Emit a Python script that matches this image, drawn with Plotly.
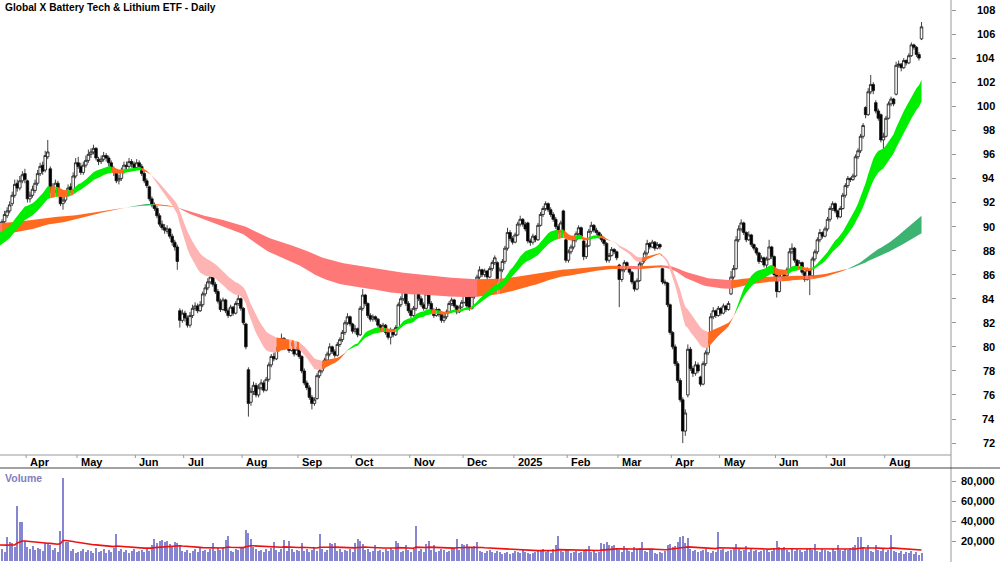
import pandas as pd
import plotly.graph_objects as go

# ---------------- data ----------------
title_text = "Global X Battery Tech & Lithium ETF - Daily"
asx_holidays = ["2024-03-29", "2024-04-01", "2024-04-25", "2024-06-10", "2024-12-25",
                "2024-12-26", "2025-01-01", "2025-01-27", "2025-04-18", "2025-04-21",
                "2025-04-25", "2025-06-09"]
dates = [d for d in pd.bdate_range("2024-03-14", "2025-08-21")
         if d.strftime("%Y-%m-%d") not in asx_holidays]

opens = [
 90.3, 89.7, 90.4, 90.9, 91.3, 91.9, 92.6, 93.6, 93.2, 93.8,
 94.4, 93.8, 92.3, 92.6, 93.0, 93.6, 94.4, 95.1, 94.7, 95.8,
 94.8, 93.1, 93.0, 93.6, 92.9, 91.9, 92.2, 92.7, 93.3, 93.0,
 94.2, 95.3, 95.0, 94.5, 95.1, 95.5, 96.0, 96.2, 96.5, 95.6,
 95.4, 95.6, 95.9, 95.7, 95.3, 94.8, 94.5, 93.8, 94.0, 94.6,
 95.1, 95.0, 95.4, 95.2, 94.9, 95.3, 95.0, 94.4, 93.8, 93.3,
 92.3, 91.8, 91.5, 90.9, 90.2, 89.9, 89.6, 89.8, 89.2, 88.7,
 88.3, 83.0, 82.2, 82.8, 82.4, 81.8, 82.6, 83.2, 83.4, 83.0,
 83.5, 84.4, 84.9, 85.4, 85.8, 85.2, 84.6, 83.8, 83.1, 83.9,
 83.0, 82.6, 83.3, 82.8, 83.6, 84.0, 83.2, 81.9, 78.1, 75.4,
 76.3, 76.8, 76.0, 76.6, 77.0, 76.4, 77.3, 78.5, 79.2, 79.0,
 79.8, 80.3, 80.7, 80.0, 80.4, 79.7, 80.2, 79.4, 79.8, 79.2,
 78.0, 77.0, 76.6, 75.8, 75.3, 75.7, 77.6, 78.0, 78.4, 78.9,
 79.4, 80.0, 79.6, 79.3, 80.2, 80.6, 81.2, 82.0, 82.5, 81.9,
 81.3, 81.5, 81.0, 83.2, 84.3, 83.6, 82.6, 82.3, 82.5, 82.3,
 81.8, 81.5, 81.8, 81.2, 80.8, 81.4, 81.0, 81.6, 83.5, 84.0,
 84.8, 83.6, 83.0, 82.6, 83.2, 85.3, 84.0, 83.5, 83.2, 84.4,
 83.6, 83.0, 82.6, 83.1, 82.7, 82.2, 82.5, 82.9, 83.6, 83.9,
 83.4, 82.9, 83.3, 83.7, 84.4, 84.6, 83.2, 84.2, 85.2, 85.8,
 86.4, 86.0, 86.3, 85.8, 86.5, 87.0, 87.0, 85.5, 86.4, 87.1,
 88.2, 89.5, 89.0, 88.7, 89.3, 90.2, 90.6, 90.2, 90.3, 88.8,
 88.7, 89.2, 88.9, 90.1, 91.0, 91.5, 91.9, 91.4, 91.0, 90.6,
 90.0, 89.6, 91.3, 88.9, 87.2, 87.9, 88.3, 88.9, 89.4, 89.9,
 88.8, 87.5, 88.4, 89.6, 90.1, 89.7, 89.5, 89.2, 88.9, 88.6,
 87.2, 87.6, 88.1, 87.9, 86.8, 85.6, 86.4, 87.0, 86.6, 86.2,
 85.4, 84.8, 85.5, 86.9, 87.2, 87.8, 88.6, 88.3, 88.7, 88.2,
 88.5, 86.5, 85.4, 85.3, 83.5, 81.2, 80.0, 78.6, 77.2, 75.6,
 73.0, 76.0, 79.8, 78.2, 77.8, 78.5, 77.5, 76.9, 78.6, 79.5,
 80.4, 82.5, 83.0, 82.6, 83.2, 82.8, 83.4, 83.1, 84.4, 85.8,
 86.5, 88.9, 89.8, 90.3, 89.5, 88.9, 89.3, 88.5, 88.2, 87.8,
 87.1, 87.4, 86.8, 87.3, 88.3, 87.5, 86.0, 84.6, 85.8, 86.2,
 85.9, 86.4, 87.9, 88.2, 87.2, 86.6, 87.0, 86.2, 85.6, 86.4,
 85.9, 87.3, 87.9, 88.9, 89.5, 89.2, 89.8, 90.6, 91.5, 91.9,
 91.3, 90.8, 91.5, 92.6, 93.4, 94.0, 93.9, 94.2, 95.8, 96.3,
 97.5, 99.9, 99.3, 101.2, 101.8, 100.3, 99.6, 99.3, 97.2, 97.5,
 99.0, 100.2, 100.6, 101.0, 103.4, 103.5, 103.2, 103.8, 103.6, 104.2,
 105.1, 104.9, 104.3, 105.6]

highs = [
 90.6, 90.6, 91.3, 91.6, 92.1, 92.9, 93.9, 93.9, 94.2, 94.6,
 94.8, 93.9, 92.9, 93.4, 93.9, 94.7, 95.3, 95.4, 96.3, 97.2,
 95.0, 93.6, 93.9, 93.8, 93.0, 92.5, 93.0, 93.5, 93.6, 94.5,
 95.7, 95.8, 95.3, 95.4, 95.9, 96.4, 96.5, 96.8, 96.6, 95.8,
 95.9, 96.2, 96.1, 95.9, 95.5, 95.0, 94.7, 94.3, 94.9, 95.4,
 95.4, 95.7, 95.6, 95.4, 95.6, 95.5, 95.2, 94.6, 94.0, 93.4,
 92.5, 92.0, 91.7, 91.1, 90.5, 90.2, 90.1, 89.9, 89.4, 88.9,
 88.5, 83.2, 83.1, 83.0, 82.6, 82.9, 83.5, 83.7, 83.6, 83.8,
 84.6, 85.2, 85.7, 86.1, 85.9, 85.4, 84.8, 84.0, 84.1, 84.0,
 83.2, 83.5, 83.4, 83.8, 84.3, 84.1, 83.3, 82.0, 78.3, 76.6,
 77.1, 77.0, 76.9, 77.3, 77.2, 77.5, 78.7, 79.4, 79.5, 80.0,
 80.5, 81.1, 80.8, 80.6, 80.5, 80.4, 80.3, 80.0, 79.9, 79.3,
 78.2, 77.2, 76.8, 76.0, 75.8, 77.8, 78.2, 78.6, 79.1, 79.6,
 80.3, 80.1, 79.8, 80.4, 80.8, 81.4, 82.2, 82.8, 82.6, 82.0,
 81.8, 81.6, 83.4, 84.8, 84.4, 83.7, 82.8, 82.7, 82.6, 82.4,
 81.9, 82.0, 81.9, 81.3, 81.6, 81.5, 81.8, 83.7, 84.2, 85.0,
 84.9, 83.8, 83.2, 83.4, 85.8, 85.4, 84.2, 83.7, 84.8, 84.5,
 83.8, 83.2, 83.3, 83.2, 82.8, 82.7, 83.1, 83.8, 84.1, 84.0,
 83.5, 83.5, 83.9, 84.6, 84.5, 84.7, 84.4, 85.4, 86.0, 86.7,
 86.5, 86.5, 86.4, 86.7, 87.2, 87.6, 87.1, 86.6, 87.3, 88.4,
 89.9, 89.7, 89.2, 89.5, 90.4, 90.9, 90.7, 90.4, 90.4, 89.0,
 89.4, 89.3, 90.3, 91.2, 91.7, 92.1, 92.0, 91.6, 91.2, 90.8,
 90.2, 90.5, 91.4, 89.0, 88.1, 88.5, 89.1, 89.6, 90.1, 90.0,
 88.9, 88.6, 89.8, 90.4, 90.2, 89.9, 89.6, 89.4, 89.0, 88.7,
 87.8, 88.3, 88.2, 88.0, 86.9, 86.6, 87.2, 87.1, 86.7, 86.3,
 85.5, 85.7, 87.1, 87.4, 88.0, 88.9, 88.7, 88.9, 88.8, 88.7,
 88.6, 86.6, 85.6, 85.4, 83.6, 81.3, 80.2, 78.8, 77.4, 75.8,
 74.8, 80.2, 80.0, 78.4, 78.8, 78.7, 77.6, 78.8, 79.7, 80.6,
 82.8, 83.3, 83.1, 83.4, 83.3, 83.6, 83.5, 83.8, 86.3, 86.8,
 89.2, 90.1, 90.6, 90.4, 89.6, 89.6, 89.4, 88.6, 88.3, 87.9,
 87.6, 87.5, 87.5, 88.9, 88.4, 87.6, 86.1, 86.0, 86.4, 86.3,
 86.6, 88.2, 88.6, 88.3, 87.3, 87.2, 87.1, 86.3, 86.6, 86.5,
 87.5, 88.1, 89.1, 89.8, 89.6, 90.0, 90.8, 91.7, 92.1, 92.0,
 91.4, 91.7, 92.8, 93.6, 94.2, 94.1, 94.4, 96.0, 96.5, 97.7,
 98.6, 100.0, 101.5, 102.6, 102.0, 100.5, 99.8, 99.4, 97.8, 99.2,
 100.4, 100.8, 100.7, 103.7, 103.8, 103.6, 104.0, 103.9, 104.4, 105.3,
 105.2, 105.0, 104.5, 107.0]

lows = [
 89.3, 89.5, 90.2, 90.7, 91.1, 91.7, 92.4, 92.9, 93.0, 93.6,
 93.6, 92.0, 92.0, 92.4, 92.8, 93.4, 94.2, 94.3, 94.5, 95.6,
 92.8, 92.6, 92.8, 92.6, 91.7, 91.4, 92.0, 92.5, 92.8, 92.9,
 94.0, 94.8, 94.3, 94.3, 94.9, 95.3, 95.7, 96.0, 95.5, 95.1,
 95.2, 95.4, 95.4, 95.0, 94.6, 94.2, 93.6, 93.5, 93.8, 94.4,
 94.7, 94.8, 94.9, 94.7, 94.7, 94.8, 94.2, 93.6, 93.2, 92.1,
 91.6, 91.3, 90.7, 90.0, 89.7, 89.4, 89.4, 89.0, 88.4, 88.0,
 86.4, 81.6, 82.0, 82.1, 81.6, 81.6, 82.4, 83.0, 82.8, 82.9,
 83.3, 84.2, 84.7, 85.2, 85.0, 84.4, 83.6, 82.9, 83.0, 82.8,
 82.4, 82.5, 82.6, 82.7, 83.4, 83.0, 81.8, 79.8, 74.2, 75.1,
 76.0, 75.8, 75.8, 76.4, 76.2, 76.3, 77.1, 78.3, 78.8, 78.9,
 79.6, 80.1, 79.8, 79.9, 79.5, 79.6, 79.2, 79.3, 79.0, 77.8,
 76.8, 76.4, 75.6, 74.8, 75.1, 75.6, 77.4, 77.8, 78.2, 78.7,
 79.2, 79.4, 79.1, 79.2, 80.0, 80.4, 81.0, 81.8, 81.7, 81.1,
 81.1, 80.8, 80.9, 83.0, 83.4, 82.4, 82.1, 82.1, 82.1, 81.6,
 81.3, 81.3, 81.0, 80.6, 80.2, 80.8, 80.9, 81.5, 83.3, 83.8,
 83.4, 82.8, 82.4, 82.5, 83.0, 83.8, 83.3, 83.0, 83.1, 83.4,
 82.8, 82.4, 82.5, 82.5, 82.0, 82.0, 82.3, 82.8, 83.4, 83.2,
 82.7, 82.8, 83.2, 83.6, 83.2, 83.0, 83.1, 84.0, 85.0, 85.6,
 85.8, 85.8, 85.6, 85.7, 86.3, 86.8, 85.3, 85.4, 86.2, 86.9,
 88.0, 88.8, 88.5, 88.6, 89.2, 90.0, 90.0, 89.6, 88.6, 88.4,
 88.5, 88.7, 88.8, 90.0, 90.8, 91.3, 91.2, 90.8, 90.4, 89.8,
 89.4, 89.5, 89.4, 87.0, 87.0, 87.7, 88.1, 88.7, 89.2, 89.0,
 87.2, 87.3, 88.3, 89.4, 89.5, 89.3, 89.0, 88.7, 88.4, 87.0,
 87.0, 87.5, 87.7, 87.2, 83.3, 85.4, 86.2, 86.4, 86.0, 85.2,
 84.6, 84.7, 85.4, 86.7, 87.0, 87.6, 88.1, 88.2, 88.0, 88.1,
 88.1, 85.2, 85.1, 83.3, 81.0, 79.8, 78.4, 77.0, 75.4, 72.0,
 72.6, 75.8, 78.0, 77.5, 77.6, 77.8, 76.7, 76.8, 78.4, 79.3,
 80.3, 82.3, 82.4, 82.5, 82.6, 82.7, 82.9, 83.0, 84.3, 85.6,
 86.4, 88.7, 89.6, 89.3, 88.7, 88.8, 88.3, 88.0, 87.6, 86.9,
 87.0, 86.6, 86.4, 87.2, 87.3, 85.8, 84.1, 84.5, 85.6, 85.7,
 85.8, 86.3, 87.7, 87.0, 86.4, 86.5, 86.0, 85.4, 85.5, 84.3,
 85.8, 87.1, 87.7, 88.7, 89.0, 89.1, 89.6, 90.4, 91.3, 91.1,
 90.6, 90.7, 91.4, 92.4, 93.2, 93.7, 93.8, 94.1, 95.6, 96.1,
 97.3, 99.0, 99.2, 101.0, 101.0, 99.4, 98.8, 97.0, 95.4, 97.4,
 98.9, 100.0, 100.0, 100.9, 103.2, 102.9, 103.1, 103.4, 103.5, 104.1,
 104.7, 104.1, 103.8, 105.5]

closes = [
 89.6, 90.4, 91.0, 91.3, 91.8, 92.6, 93.5, 93.2, 93.8, 94.3,
 93.9, 92.3, 92.6, 93.1, 93.6, 94.4, 95.0, 94.6, 95.9, 96.2,
 93.1, 93.0, 93.6, 92.8, 91.9, 92.2, 92.7, 93.2, 93.0, 94.2,
 95.3, 95.0, 94.5, 95.1, 95.5, 96.0, 96.2, 96.5, 95.7, 95.4,
 95.6, 95.9, 95.7, 95.3, 94.8, 94.5, 93.8, 94.0, 94.6, 95.1,
 95.0, 95.4, 95.2, 94.9, 95.3, 95.0, 94.4, 93.8, 93.4, 92.3,
 91.8, 91.5, 90.9, 90.2, 89.9, 89.7, 89.8, 89.2, 88.7, 88.3,
 87.1, 82.2, 82.8, 82.4, 81.8, 82.6, 83.2, 83.4, 83.0, 83.5,
 84.4, 84.9, 85.4, 85.8, 85.2, 84.6, 83.8, 83.1, 83.9, 83.0,
 82.6, 83.3, 82.8, 83.6, 84.0, 83.2, 82.0, 80.0, 75.3, 76.3,
 76.8, 76.0, 76.6, 77.0, 76.4, 77.3, 78.5, 79.2, 79.0, 79.8,
 80.3, 80.7, 80.0, 80.4, 79.7, 80.2, 79.4, 79.8, 79.2, 78.0,
 77.0, 76.6, 75.8, 75.3, 75.6, 77.6, 78.0, 78.4, 78.9, 79.4,
 80.0, 79.6, 79.3, 80.2, 80.6, 81.2, 82.0, 82.5, 81.9, 81.3,
 81.5, 81.0, 83.2, 84.3, 83.6, 82.6, 82.3, 82.5, 82.3, 81.8,
 81.5, 81.8, 81.2, 80.8, 81.4, 81.0, 81.6, 83.5, 84.0, 84.8,
 83.6, 83.0, 82.6, 83.2, 85.3, 84.0, 83.5, 83.2, 84.4, 83.6,
 83.0, 82.6, 83.1, 82.7, 82.2, 82.5, 82.9, 83.6, 83.9, 83.4,
 82.9, 83.3, 83.7, 84.4, 83.4, 83.2, 84.2, 85.2, 85.8, 86.4,
 86.0, 86.3, 85.8, 86.5, 87.0, 87.4, 85.5, 86.4, 87.1, 88.2,
 89.5, 89.0, 88.7, 89.3, 90.2, 90.6, 90.2, 89.8, 88.8, 88.7,
 89.2, 88.9, 90.1, 91.0, 91.5, 91.9, 91.4, 91.0, 90.6, 90.0,
 89.6, 90.3, 89.6, 87.2, 87.9, 88.3, 88.9, 89.4, 89.9, 89.2,
 87.5, 88.4, 89.6, 90.1, 89.7, 89.5, 89.2, 88.9, 88.6, 87.2,
 87.6, 88.1, 87.9, 87.4, 85.6, 86.4, 87.0, 86.6, 86.2, 85.4,
 84.8, 85.5, 86.9, 87.2, 87.8, 88.6, 88.3, 88.7, 88.2, 88.5,
 88.3, 85.4, 85.3, 83.5, 81.2, 80.0, 78.6, 77.2, 75.6, 73.0,
 74.5, 79.8, 78.2, 77.8, 78.5, 78.0, 76.9, 78.6, 79.5, 80.4,
 82.5, 83.0, 82.6, 83.2, 82.8, 83.4, 83.1, 83.6, 85.8, 86.5,
 88.9, 89.8, 90.3, 89.5, 88.9, 89.3, 88.5, 88.2, 87.8, 87.1,
 87.4, 86.8, 87.3, 88.3, 87.5, 86.0, 84.6, 85.8, 86.2, 85.9,
 86.4, 87.9, 88.2, 87.2, 86.6, 87.0, 86.2, 85.6, 86.4, 85.9,
 87.3, 87.9, 88.9, 89.5, 89.2, 89.8, 90.6, 91.5, 91.9, 91.3,
 90.8, 91.5, 92.6, 93.4, 94.0, 93.9, 94.2, 95.8, 96.3, 97.5,
 98.4, 99.3, 101.2, 101.8, 101.3, 99.6, 99.0, 97.2, 97.5, 99.0,
 100.2, 100.6, 100.2, 103.4, 103.5, 103.2, 103.8, 103.6, 104.2, 105.1,
 104.9, 104.3, 104.0, 106.6]

volume_thousands = [
 10, 12, 9, 24, 19, 18, 14, 55, 39, 39,
 20, 14, 12, 15, 11, 13, 12, 10, 18, 18,
 16, 11, 13, 9, 30, 83, 19, 19, 10, 12,
 8, 9, 10, 12, 9, 11, 10, 8, 13, 9,
 10, 12, 8, 11, 9, 13, 27, 10, 12, 9,
 11, 8, 10, 12, 9, 10, 11, 9, 12, 10,
 16, 22, 18, 20, 21, 19, 20, 17, 14, 19,
 18, 16, 10, 9, 11, 8, 10, 12, 9, 13,
 10, 11, 9, 12, 18, 10, 13, 11, 14, 21,
 25, 10, 9, 12, 11, 14, 13, 31, 28, 22,
 14, 12, 10, 11, 9, 12, 10, 13, 19, 11,
 9, 12, 21, 10, 20, 12, 9, 11, 10, 18,
 10, 12, 9, 11, 14, 10, 27, 12, 9, 11,
 18, 17, 18, 10, 12, 9, 11, 10, 12, 9,
 18, 22, 20, 17, 11, 12, 9, 10, 16, 10,
 11, 9, 12, 10, 13, 11, 20, 18, 9, 10,
 16, 11, 9, 12, 35, 10, 12, 9, 17, 20,
 11, 16, 9, 10, 12, 11, 9, 10, 13, 12,
 22, 11, 17, 16, 17, 14, 13, 15, 19, 10,
 9, 8, 10, 11, 9, 8, 10, 9, 7, 8,
 9, 7, 8, 10, 9, 8, 12, 9, 8, 7,
 8, 9, 10, 11, 12, 9, 10, 8, 12, 16,
 25, 10, 9, 12, 11, 8, 9, 10, 8, 9,
 10, 12, 15, 9, 10, 8, 9, 18, 17, 19,
 16, 15, 16, 12, 11, 9, 15, 12, 10, 9,
 14, 11, 13, 19, 10, 9, 12, 11, 8, 7,
 9, 8, 10, 16, 17, 14, 15, 19, 24, 25,
 18, 23, 12, 10, 11, 9, 10, 11, 12, 9,
 8, 10, 9, 29, 11, 12, 9, 10, 11, 13,
 17, 12, 10, 11, 15, 9, 12, 10, 11, 9,
 10, 11, 12, 9, 10, 13, 20, 14, 12, 14,
 11, 9, 13, 10, 12, 11, 9, 10, 12, 13,
 11, 17, 10, 9, 12, 11, 10, 9, 12, 10,
 16, 11, 10, 12, 11, 13, 14, 16, 24, 24,
 13, 12, 16, 10, 9, 16, 11, 10, 12, 9,
 11, 26, 10, 9, 8, 10, 7, 9, 8, 10,
 7, 9, 6, 8]

price_ticks = list(range(72, 109, 2))
volume_ticks = [20, 40, 60, 80]
volume_tick_labels = ["20,000", "40,000", "60,000", "80,000"]
month_names = {1: "2025", 2: "Feb", 3: "Mar", 4: "Apr", 5: "May", 6: "Jun", 7: "Jul",
               8: "Aug", 9: "Sep", 10: "Oct", 11: "Nov", 12: "Dec"}

# moving-average settings (spans) and starting levels read at the chart's left edge
short_spans, short_seeds = (20, 30), (89.5, 88.4)
long_spans, long_seeds = (160, 250), (89.3, 90.3)
vol_ma_span, vol_ma_seed = 40, 16.0

n = len(closes)
idx = list(range(n))


def ema(values, span, seed):
    a = 2.0 / (span + 1)
    out = [seed]
    for v in values[1:]:
        out.append(out[-1] + a * (v - out[-1]))
    return out


def band_states(fast, slow, ref):
    # bullish order: green while price holds above the reference line, orange otherwise
    st = []
    for i in range(len(fast)):
        if fast[i] >= slow[i]:
            st.append("up" if closes[i] >= ref[i] else "mixed")
        else:
            st.append("down" if closes[i] <= ref[i] else "mixed")
    return st


def band_traces(fast, slow, ref, colors):
    st = band_states(fast, slow, ref)
    upper = [max(a, b) for a, b in zip(fast, slow)]
    lower = [min(a, b) for a, b in zip(fast, slow)]
    traces = []
    start = 0
    for i in range(1, len(st) + 1):
        if i == len(st) or st[i] != st[start]:
            end = min(i, len(st) - 1)
            xs = idx[start:end + 1]
            ys = upper[start:end + 1] + lower[start:end + 1][::-1]
            traces.append(go.Scatter(
                x=xs + xs[::-1], y=ys, fill="toself", fillcolor=colors[st[start]],
                mode="lines", line=dict(width=0, color=colors[st[start]]),
                hoverinfo="skip", showlegend=False, xaxis="x", yaxis="y"))
            start = i
    return traces


s_fast = ema(closes, short_spans[0], short_seeds[0])
s_slow = ema(closes, short_spans[1], short_seeds[1])
l_fast = ema(closes, long_spans[0], long_seeds[0])
l_slow = ema(closes, long_spans[1], long_seeds[1])
vol_ma = ema(volume_thousands, vol_ma_span, vol_ma_seed)

short_colors = {"up": "#00ee00", "down": "#ffb4b4", "mixed": "#ff6a1f"}
long_colors = {"up": "#3cb371", "down": "#ff7878", "mixed": "#ff6a1f"}

fig = go.Figure()
for t in band_traces(l_fast, l_slow, l_slow, long_colors):
    fig.add_trace(t)
for t in band_traces(s_fast, s_slow, s_fast, short_colors):
    fig.add_trace(t)

fig.add_trace(go.Candlestick(
    x=idx, open=opens, high=highs, low=lows, close=closes,
    increasing=dict(line=dict(color="#111111", width=0.8), fillcolor="white"),
    decreasing=dict(line=dict(color="#111111", width=0.8), fillcolor="black"),
    whiskerwidth=0, showlegend=False, hoverinfo="skip", xaxis="x", yaxis="y"))

fig.add_trace(go.Bar(x=idx, y=volume_thousands, width=0.4,
                     marker=dict(color="#8585d2", line=dict(width=0)),
                     showlegend=False, hoverinfo="skip", xaxis="x2", yaxis="y2"))
fig.add_trace(go.Scatter(x=idx, y=vol_ma, mode="lines",
                         line=dict(color="#ee1111", width=1.6),
                         showlegend=False, hoverinfo="skip", xaxis="x2", yaxis="y2"))

# ---------------- layout ----------------
W, H, R = 1000, 562, 49
PW = W - R
px_per_bar = 2.54
x0 = 0.5 / px_per_bar
x1 = (PW + 0.5) / px_per_bar
price_bottom_px, vol_top_px = 455, 468
p_top = 108 + 10 / 12.03
p_bot = 108 - (price_bottom_px - 10) / 12.03


def py(pxv):
    return 1 - pxv / H


font_main = "Liberation Sans, Arial, sans-serif"

fig.update_layout(
    width=W, height=H, margin=dict(l=0, r=R, t=0, b=0),
    paper_bgcolor="white", plot_bgcolor="white", showlegend=False,
    boxgap=0.0, boxgroupgap=0.0,
    xaxis=dict(domain=[0, 1], range=[x0, x1], visible=False,
               rangeslider=dict(visible=False), anchor="y"),
    xaxis2=dict(domain=[0, 1], range=[x0, x1], visible=False, anchor="y2", matches="x"),
    yaxis=dict(domain=[py(price_bottom_px), 1], range=[p_bot, p_top], side="right",
               showgrid=False, zeroline=False, showline=False, ticks="outside",
               ticklen=4, tickcolor="#999999", tickvals=price_ticks,
               showticklabels=False, anchor="x"),
    yaxis2=dict(domain=[0, py(vol_top_px)], range=[-1, 93], side="right",
                showgrid=False, zeroline=False, showline=False, ticks="outside",
                ticklen=4, tickcolor="#999999", tickvals=volume_ticks,
                showticklabels=False, anchor="x2"),
)

shapes = [
    dict(type="line", xref="paper", yref="paper", x0=1, x1=1, y0=0, y1=1,
         line=dict(color="#999999", width=1)),
    dict(type="line", xref="paper", yref="paper", x0=0, x1=1, y0=py(price_bottom_px),
         y1=py(price_bottom_px), line=dict(color="#999999", width=1)),
    dict(type="line", xref="paper", yref="paper", x0=0, x1=W / PW, y0=py(vol_top_px),
         y1=py(vol_top_px), line=dict(color="#444444", width=1)),
]
annotations = [
    dict(text="<b>" + title_text + "</b>", xref="paper", yref="paper",
         x=3 / PW, y=py(8), xanchor="left", yanchor="middle", showarrow=False,
         font=dict(family="Liberation Sans Narrow, Arial Narrow, " + font_main,
                   size=10.2, color="black")),
    dict(text="<b>Volume</b>", xref="paper", yref="paper", x=3 / PW, y=py(478),
         xanchor="left", yanchor="middle", showarrow=False,
         font=dict(family=font_main, size=10.5, color="#7f7fbf")),
]
for p in price_ticks:
    annotations.append(dict(text="<b>%d</b>" % p, xref="paper", yref="y", x=997 / PW, y=p,
                            xanchor="right", yanchor="middle", showarrow=False,
                            font=dict(family=font_main, size=11, color="black")))
for v, lab in zip(volume_ticks, volume_tick_labels):
    annotations.append(dict(text="<b>%s</b>" % lab, xref="paper", yref="y2", x=997 / PW,
                            y=v, xanchor="right", yanchor="middle", showarrow=False,
                            font=dict(family=font_main, size=11, color="black")))
for i in range(1, n):
    if dates[i].month != dates[i - 1].month:
        xm = i - 0.5
        shapes.append(dict(type="line", xref="x", yref="paper", x0=xm, x1=xm,
                           y0=py(price_bottom_px), y1=py(price_bottom_px + 3),
                           line=dict(color="#999999", width=1)))
        annotations.append(dict(text="<b>%s</b>" % month_names[dates[i].month], xref="x",
                                yref="paper", x=xm, y=py(462), xanchor="left",
                                yanchor="middle", xshift=2, showarrow=False,
                                font=dict(family=font_main, size=11, color="black")))

fig.update_layout(shapes=shapes, annotations=annotations)
fig.write_html("out.html")
